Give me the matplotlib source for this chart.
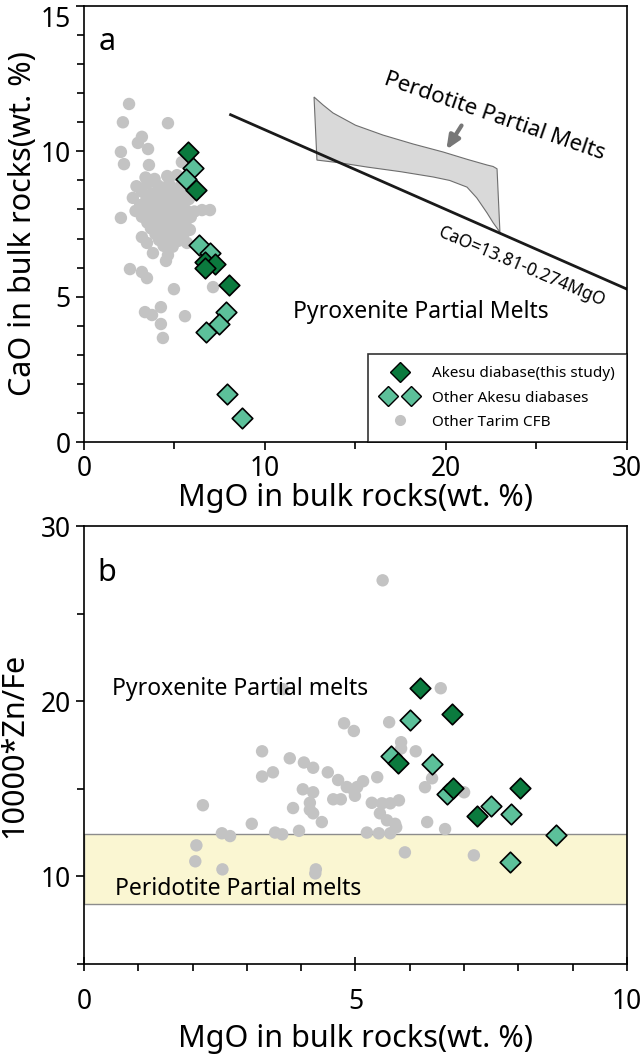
import numpy as np
import matplotlib.pyplot as plt
from matplotlib.patches import Polygon
from matplotlib.lines import Line2D
from matplotlib.legend_handler import HandlerTuple
from matplotlib.ticker import MultipleLocator

plt.rcParams['font.family'] = ['Noto Sans', 'DejaVu Sans']

# colours
dark_green = '#0b7a3e'
light_green = '#5cc09a'
grey = '#c3c3c3'

# ---- panel a: CaO vs MgO ----
akesu_a_mgo = [5.75, 6.19, 6.69, 7.24, 6.69, 8.01]
akesu_a_cao = [9.98, 8.67, 6.19, 6.12, 5.99, 5.40]

other_a_mgo = [6.02, 5.64, 6.35, 6.96, 7.85, 7.46, 6.74, 7.90, 8.73]
other_a_cao = [9.43, 9.05, 6.78, 6.50, 4.47, 4.06, 3.78, 1.65, 0.83]

tarim_a_mgo = [2.49, 2.15, 4.64, 3.20, 2.98, 3.54, 2.04, 2.21, 3.59, 5.41, 5.14, 2.04, 6.96, 6.52,
               3.20, 3.48, 3.81, 4.64, 4.53, 2.54, 3.20, 3.48, 4.97, 7.13, 5.69, 4.25, 3.37, 3.76,
               4.25, 5.58, 4.36,
               3.40, 3.90, 4.60,
               2.90, 3.50, 4.10, 4.70, 5.30,
               3.20, 3.75, 4.35, 4.95, 5.55,
               2.70, 3.45, 4.00, 4.60, 5.20, 5.80,
               3.10, 3.65, 4.25, 4.85, 5.45,
               2.85, 3.40, 3.95, 4.50, 5.05, 5.65, 6.10,
               3.20, 3.75, 4.30, 4.85, 5.40, 5.90,
               3.50, 4.05, 4.60, 5.15, 5.60,
               3.70, 4.20, 4.75, 5.30, 5.85,
               3.95, 4.45, 5.00, 5.50,
               4.15, 4.65, 5.20,
               4.40, 4.90]
tarim_a_cao = [11.63, 11.00, 10.97, 10.50, 10.29, 10.08, 9.98, 9.56, 9.53, 9.63, 9.18, 7.71, 7.98, 7.98,
               7.05, 6.85, 6.50, 6.43, 6.23, 5.95, 5.85, 5.64, 5.26, 5.33, 6.85, 4.64, 4.47, 4.37,
               4.06, 4.33, 3.58,
               9.10, 9.05, 9.15,
               8.80, 8.90, 8.82, 8.88, 8.78,
               8.62, 8.55, 8.65, 8.58, 8.60,
               8.40, 8.35, 8.45, 8.38, 8.42, 8.36,
               8.15, 8.20, 8.12, 8.18, 8.14,
               7.95, 7.98, 7.92, 7.96, 7.90, 7.97, 7.93,
               7.75, 7.72, 7.78, 7.70, 7.76, 7.74,
               7.55, 7.58, 7.52, 7.56, 7.50,
               7.35, 7.38, 7.32, 7.36, 7.30,
               7.15, 7.12, 7.18, 7.14,
               6.95, 6.98, 6.92,
               6.75, 6.72]

# CaO = 13.81 - 0.274MgO line as drawn
line_mgo = [8.1, 30.0]
line_cao = [11.26, 5.26]

# peridotite partial melt field outline
field_mgo = [12.71, 13.20, 13.76, 15.00, 16.52, 18.20, 19.83, 21.20, 22.27, 22.60, 22.82,
             22.98, 22.60, 22.27, 21.70, 21.16, 20.20, 19.28, 17.50, 15.64, 14.20, 12.87]
field_cao = [11.87, 11.60, 11.32, 10.90, 10.56, 10.25, 9.98, 9.72, 9.53, 9.48, 9.40,
             7.22, 7.55, 7.88, 8.40, 8.77, 9.00, 9.12, 9.30, 9.46, 9.60, 9.70]

# ---- panel b: 10000*Zn/Fe vs MgO ----
akesu_b_mgo = [6.19, 6.78, 5.78, 8.03, 7.24, 6.80]
akesu_b_znfe = [20.74, 19.26, 16.46, 15.03, 13.43, 15.03]

other_b_mgo = [6.00, 5.65, 6.41, 6.68, 7.50, 7.86, 8.70, 7.85]
other_b_znfe = [18.90, 16.86, 16.40, 14.70, 14.00, 13.54, 12.34, 10.82]

tarim_b_mgo = [3.66, 4.79, 4.97, 3.28, 3.79, 4.05, 4.22, 3.48, 3.28, 4.49, 4.68, 4.84, 5.03, 4.03,
               4.22, 4.59, 4.73, 4.99, 4.16, 4.16, 4.22, 3.85, 2.19, 3.09, 4.38, 3.96, 3.52, 3.65,
               2.54, 2.69, 6.57, 5.62, 5.84, 5.84, 6.11, 5.40, 6.41, 6.28, 7.00, 5.14, 5.30, 5.49,
               5.64, 5.80, 5.45, 5.58, 5.73, 6.32, 6.65, 5.21, 5.43, 5.64, 2.07, 2.05, 2.55, 4.27,
               4.26, 5.75, 5.91, 7.18, 5.50, 4.97]
tarim_b_znfe = [20.69, 18.74, 18.30, 17.14, 16.74, 16.50, 16.20, 15.94, 15.70, 15.94, 15.50, 15.10, 15.10, 14.97,
                14.80, 14.40, 14.40, 14.60, 14.20, 13.80, 13.60, 13.90, 14.06, 13.00, 13.10, 12.60, 12.50, 12.40,
                12.46, 12.30, 20.74, 18.80, 17.66, 17.30, 17.14, 15.66, 15.60, 15.09, 14.80, 15.43, 14.20, 14.17,
                14.17, 14.34, 13.60, 13.20, 13.00, 13.10, 12.70, 12.50, 12.46, 12.46, 11.77, 10.86, 10.40, 10.40,
                10.17, 12.80, 11.37, 11.20, 26.90, 14.90]

# peridotite partial melt band
band_low = 8.4
band_high = 12.4

fig = plt.figure(figsize=(6.44, 10.55), dpi=100)
ax1 = fig.add_axes([0.1304, 0.5810, 0.8432, 0.4133])
ax2 = fig.add_axes([0.1304, 0.0863, 0.8432, 0.4151])

# panel a
ax1.add_patch(Polygon(np.column_stack([field_mgo, field_cao]), closed=True,
                      facecolor='#d9d9d9', edgecolor='#6e6e6e', linewidth=0.8, zorder=1))
ax1.plot(line_mgo, line_cao, color='#1a1a1a', linewidth=2, zorder=2)
ax1.annotate('', xy=(19.94, 9.98), xytext=(20.94, 10.97),
             arrowprops=dict(arrowstyle='-|>,head_length=0.8,head_width=0.35',
                             color='#777777', linewidth=3), zorder=3)
ax1.scatter(tarim_a_mgo, tarim_a_cao, s=80, color=grey, edgecolors='none', zorder=3)
ax1.scatter(other_a_mgo, other_a_cao, s=110, marker='D', color=light_green,
            edgecolors='black', linewidths=1.2, zorder=4)
ax1.scatter(akesu_a_mgo, akesu_a_cao, s=110, marker='D', color=dark_green,
            edgecolors='black', linewidths=1.2, zorder=5)

ax1.text(0.8, 13.75, 'a', fontsize=22, va='center', ha='left')
ax1.text(22.7, 11.2, 'Perdotite Partial Melts', fontsize=16, rotation=-19,
         ha='center', va='center', rotation_mode='anchor')
ax1.text(24.2, 6.05, 'CaO=13.81-0.274MgO', fontsize=12.5, rotation=-23,
         ha='center', va='center', rotation_mode='anchor')
ax1.text(18.6, 4.47, 'Pyroxenite Partial Melts', fontsize=16.5, ha='center', va='center')

ax1.set_xlim(0, 30)
ax1.set_ylim(0, 15)
ax1.set_xticks([0, 10, 20, 30])
ax1.set_yticks([0, 5, 10, 15])
ax1.xaxis.set_minor_locator(MultipleLocator(5))
ax1.yaxis.set_minor_locator(MultipleLocator(1))
ax1.tick_params(which='both', direction='out', labelsize=19, width=1.2)
ax1.tick_params(which='major', length=6)
ax1.tick_params(which='minor', length=5)
ax1.set_xlabel('MgO in bulk rocks(wt. %)', fontsize=22, labelpad=0)
ax1.set_ylabel('CaO in bulk rocks(wt. %)', fontsize=22, labelpad=2)
fig.canvas.draw()
ax1.get_yticklabels()[-1].set_va('top')

handles = [
    Line2D([], [], marker='D', linestyle='none', markersize=10, markerfacecolor=dark_green,
           markeredgecolor='black', markeredgewidth=1),
    (Line2D([], [], marker='D', linestyle='none', markersize=10, markerfacecolor=light_green,
            markeredgecolor='black', markeredgewidth=1),
     Line2D([], [], marker='D', linestyle='none', markersize=10, markerfacecolor=light_green,
            markeredgecolor='black', markeredgewidth=1)),
    Line2D([], [], marker='o', linestyle='none', markersize=8, markerfacecolor=grey,
           markeredgecolor='none'),
]
labels = ['Akesu diabase(this study)', 'Other Akesu diabases', 'Other Tarim CFB']
leg = ax1.legend(handles, labels, loc='lower right', bbox_to_anchor=(1, 0), borderaxespad=0,
                 fontsize=11, frameon=True, fancybox=False, edgecolor='black',
                 handler_map={tuple: HandlerTuple(ndivide=None, pad=0.4)},
                 handlelength=2.6, handletextpad=0.8, borderpad=0.8, labelspacing=0.6)
leg.get_frame().set_linewidth(1.2)

# panel b
ax2.axhspan(band_low, band_high, facecolor='#faf6d2', edgecolor='#8c8c8c', linewidth=1, zorder=0)
ax2.scatter(tarim_b_mgo, tarim_b_znfe, s=80, color=grey, edgecolors='none', zorder=3)
ax2.scatter(other_b_mgo, other_b_znfe, s=110, marker='D', color=light_green,
            edgecolors='black', linewidths=1.2, zorder=4)
ax2.scatter(akesu_b_mgo, akesu_b_znfe, s=110, marker='D', color=dark_green,
            edgecolors='black', linewidths=1.2, zorder=5)

ax2.text(0.24, 27.3, 'b', fontsize=22, va='center', ha='left')
ax2.text(0.52, 20.7, 'Pyroxenite Partial melts', fontsize=16.5, va='center', ha='left')
ax2.text(0.57, 9.3, 'Peridotite Partial melts', fontsize=16.5, va='center', ha='left')

ax2.set_xlim(0, 10)
ax2.set_ylim(5, 30)
ax2.set_xticks([0, 5, 10])
ax2.set_yticks([10, 20, 30])
ax2.xaxis.set_minor_locator(MultipleLocator(1))
ax2.yaxis.set_minor_locator(MultipleLocator(5))
ax2.tick_params(axis='y', which='both', direction='out', labelsize=19, width=1.2)
ax2.tick_params(axis='x', which='major', direction='inout', labelsize=19, width=1.2, length=10, pad=12)
ax2.tick_params(axis='x', which='minor', direction='out', width=1.2, length=5)
ax2.tick_params(axis='y', which='major', length=6)
ax2.tick_params(axis='y', which='minor', length=5)
ax2.set_xlabel('MgO in bulk rocks(wt. %)', fontsize=22, labelpad=6)
ax2.set_ylabel('10000*Zn/Fe', fontsize=22, labelpad=8)

for ax in (ax1, ax2):
    for sp in ax.spines.values():
        sp.set_linewidth(1.2)

fig.savefig('out.png', dpi=100)
